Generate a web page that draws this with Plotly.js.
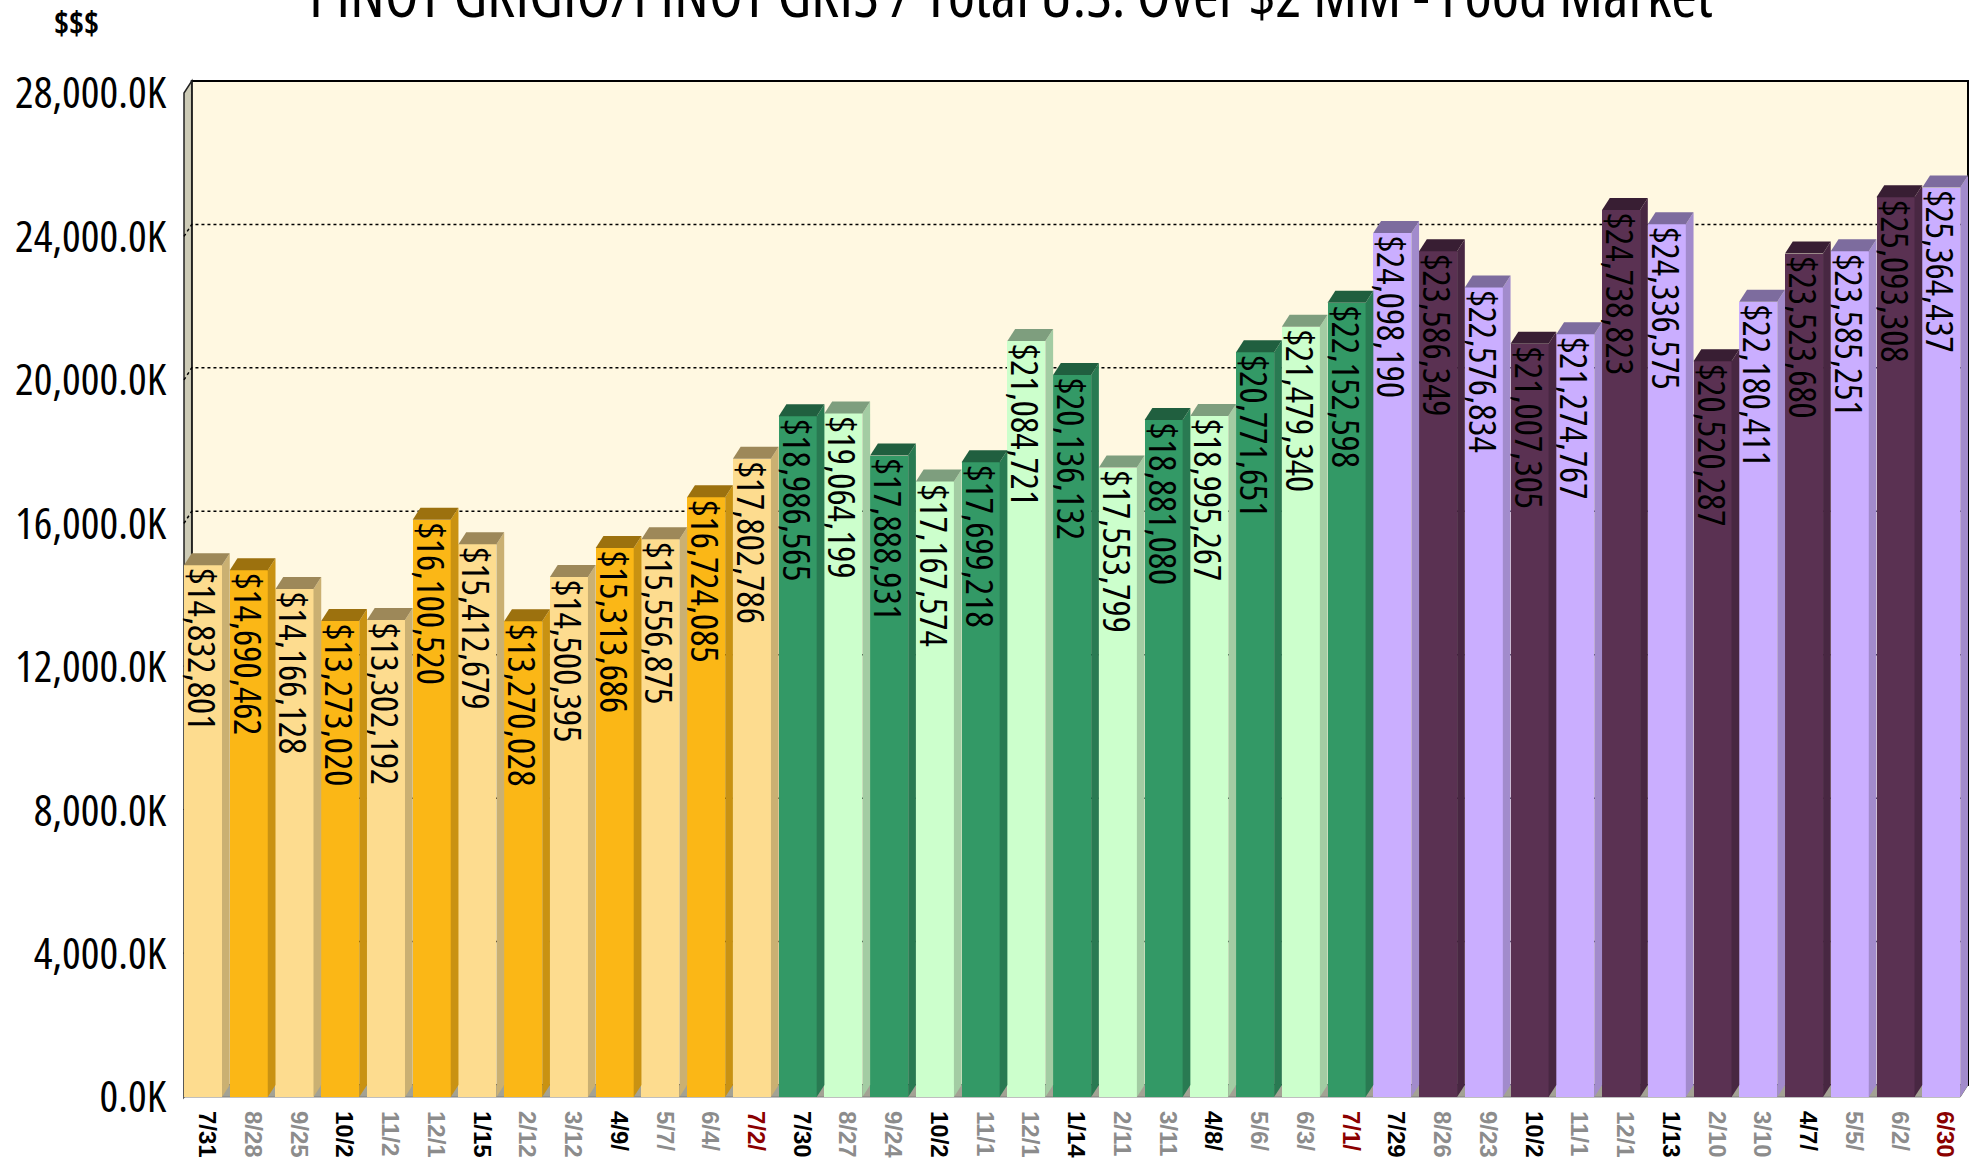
<!DOCTYPE html>
<html>
<head>
<meta charset="utf-8">
<script src="https://cdn.plot.ly/plotly-3.0.1.min.js"></script>
<style>
html,body{margin:0;padding:0;background:#fff;}
#chart{width:1986px;height:1159px;}
svg text{font-stretch:75%;}
</style>
</head>
<body>
<div id="chart"></div>
<script>
// ---- data ----
const periods = ['7/31','8/28','9/25','10/2','11/2','12/1','1/15','2/12','3/12','4/9/','5/7/','6/4/','7/2/',
                 '7/30','8/27','9/24','10/2','11/1','12/1','1/14','2/11','3/11','4/8/','5/6/','6/3/','7/1/',
                 '7/29','8/26','9/23','10/2','11/1','12/1','1/13','2/10','3/10','4/7/','5/5/','6/2/','6/30'];
const dollarsYear1 = [14832801,14690462,14166128,13273020,13302192,16100520,15412679,13270028,14500395,15313686,15556875,16724085,17802786];
const dollarsYear2 = [18986565,19064199,17888931,17167574,17699218,21084721,20136132,17553799,18881080,18995267,20771651,21479340,22152598];
const dollarsYear3 = [24098190,23586349,22576834,21007305,21274767,24738823,24336575,20520287,22180411,23523680,23585251,25093308,25364437];
const yTickValues = [0,4000000,8000000,12000000,16000000,20000000,24000000,28000000];

// ---- styling helpers ----
const values = dollarsYear1.concat(dollarsYear2, dollarsYear3);
const N = values.length;
const xs = values.map((v,i)=>i);
const palettes = [['#FDDC8F','#FBB716'],['#CCFFCC','#339966'],['#CAAEFF','#5A3152']];
function hexToRgb(h){return [parseInt(h.slice(1,3),16),parseInt(h.slice(3,5),16),parseInt(h.slice(5,7),16)];}
function shade(h,f){const c=hexToRgb(h).map(x=>Math.round(x*f));return 'rgb('+c.join(',')+')';}
const frontColors = xs.map(i=>palettes[Math.floor(i/13)][i%2]);

const slotPx = 45.74, unitPerPx = 28000000/1004;
const DX = 0.169, FW = 1-DX, DY = 12*unitPerPx;
const xMin = -0.5 - 3/slotPx, xMax = N-0.5 + 4/slotPx;
const yMin = -3*unitPerPx, yMax = (1097-78)*unitPerPx;

function fmtK(v){const k=v/1000;return k.toLocaleString('en-US',{minimumFractionDigits:1,maximumFractionDigits:1})+'K';}
function fmtD(v){return '$'+v.toLocaleString('en-US');}

const tickText = periods.map((p,i)=>{
  const k=i%13; let col='#8C8C8C';
  if(k===0||k===3||k===6||k===9) col='#000000';
  if(k===12) col='#8B0000';
  return '<span style="color:'+col+'"><b>'+p+'</b></span>';
});

const narrow = 'Open Sans, sans-serif';

const shapes = [];
// back wall
shapes.push({type:'rect',xref:'x',yref:'y',layer:'below',x0:-0.5+DX,x1:N-0.5,y0:DY,y1:28000000+DY,
  fillcolor:'#FFF8E1',line:{color:'#000',width:2}});
// left wall
shapes.push({type:'path',xref:'x',yref:'y',layer:'below',
  path:`M ${-0.5},0 L ${-0.5},28000000 L ${-0.5+DX},${28000000+DY} L ${-0.5+DX},${DY} Z`,
  fillcolor:'#CDCBB6',line:{color:'#222',width:1.5}});
// floor
shapes.push({type:'path',xref:'x',yref:'y',layer:'below',
  path:`M ${-0.5},0 L ${N-0.5-DX},0 L ${N-0.5},${DY} L ${-0.5+DX},${DY} Z`,
  fillcolor:'#A3A294',line:{color:'#808080',width:1}});
// grid lines on back wall
yTickValues.slice(1,-1).forEach(v=>{
  shapes.push({type:'path',xref:'x',yref:'y',layer:'below',
    path:`M ${-0.5},${v} L ${-0.5+DX},${v+DY} L ${N-0.5},${v+DY}`,
    line:{color:'#000',width:1.5,dash:'dot'}});
});
// 3D faces of bars
values.forEach((v,i)=>{
  const xl=i-0.5, xr=i-0.5+FW, xb=i+0.5;
  const c=frontColors[i];
  shapes.push({type:'path',xref:'x',yref:'y',layer:'above',
    path:`M ${xr},0 L ${xr},${v} L ${xb},${v+DY} L ${xb},${DY} Z`,
    fillcolor:shade(c,0.8),line:{width:0}});
  shapes.push({type:'path',xref:'x',yref:'y',layer:'above',
    path:`M ${xl},${v} L ${xr},${v} L ${xb},${v+DY} L ${xl+DX},${v+DY} Z`,
    fillcolor:shade(c,0.62),line:{width:0}});
});

const trace = {
  type:'bar', x:xs, y:values, width:FW, offset:-0.5,
  marker:{color:frontColors,line:{width:0}},
  text:values.map(fmtD), textposition:'inside', insidetextanchor:'end',
  textangle:90, constraintext:'none',
  textfont:{family:narrow,size:38,color:'#000'},
  hoverinfo:'skip', cliponaxis:false
};

const layout = {
  width:1986, height:1159,
  margin:{l:181,r:14,t:78,b:59,pad:0},
  paper_bgcolor:'#fff', plot_bgcolor:'#fff',
  showlegend:false, bargap:0,
  xaxis:{range:[xMin,xMax],tickmode:'array',tickvals:xs,ticktext:tickText,tickangle:90,
    showgrid:false,zeroline:false,showline:false,ticks:'',ticklabelstandoff:10,
    tickfont:{family:'Liberation Sans, Arial, sans-serif',size:24,color:'#000'}},
  yaxis:{range:[yMin,yMax],tickmode:'array',tickvals:yTickValues,ticktext:yTickValues.map(fmtK),
    showgrid:false,zeroline:false,showline:false,ticks:'',ticklabelstandoff:14,
    tickfont:{family:narrow,size:44,color:'#000'}},
  shapes:shapes,
  annotations:[
    {xref:'paper',yref:'paper',x:(1011-181)/1791,y:(1100+7)/1022,xanchor:'center',yanchor:'middle',
     text:'PINOT GRIGIO/PINOT GRIS / Total U.S. Over $2 MM - Food Market',showarrow:false,
     font:{family:narrow,size:62,color:'#000'}},
    {xref:'paper',yref:'paper',x:(76-181)/1791,y:(1100-22)/1022,xanchor:'center',yanchor:'middle',
     text:'<b>$$$</b>',showarrow:false,font:{family:narrow,size:32,color:'#000'}}
  ]
};

Plotly.newPlot('chart',[trace],layout,{staticPlot:true});
</script>
</body>
</html>
